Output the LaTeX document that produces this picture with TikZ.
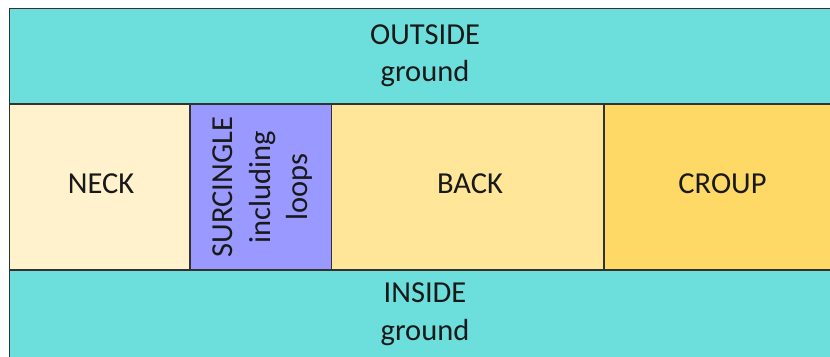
\documentclass[tikz,border=0pt]{standalone}
\usepackage{fontspec}
\setmainfont{Carlito}
\definecolor{teal}{RGB}{108,222,219}
\definecolor{neckc}{RGB}{255,242,204}
\definecolor{surc}{RGB}{153,153,255}
\definecolor{backc}{RGB}{255,230,153}
\definecolor{croupc}{RGB}{255,217,102}
\definecolor{edge}{RGB}{50,50,50}
\tikzset{
  zone/.style={draw=edge,line width=1.4bp},
  lbl/.style={font=\fontsize{30.5bp}{37.5bp}\selectfont,align=center,inner sep=0pt,text=black!90}
}
\begin{document}
\begin{tikzpicture}[x=1bp,y=-1bp]
\useasboundingbox (0,0) rectangle (830,356);
\clip (0,0) rectangle (830,356);
\fill[white] (0,0) rectangle (830,356);
\filldraw[zone,fill=teal] (9.5,8.5) rectangle (842,104);
\filldraw[zone,fill=teal] (9.5,270) rectangle (842,362);
\filldraw[zone,fill=neckc] (9.5,104) rectangle (190,270);
\filldraw[zone,fill=surc] (190,104) rectangle (331.5,270);
\filldraw[zone,fill=backc] (331.5,104) rectangle (604,270);
\filldraw[zone,fill=croupc] (604,104) rectangle (842,270);
\node[lbl] (outside) at (425,55.5) {OUTSIDE\\ground};
\node[lbl] (inside) at (425,314) {INSIDE\\ground};
\node[lbl] (neck) at (101,184) {NECK};
\node[lbl,rotate=90] (surcingle) at (263,187) {SURCINGLE\\including\\loops};
\node[lbl] (back) at (470,184) {BACK};
\node[lbl] (croup) at (722.5,184) {CROUP};
\end{tikzpicture}
\end{document}
